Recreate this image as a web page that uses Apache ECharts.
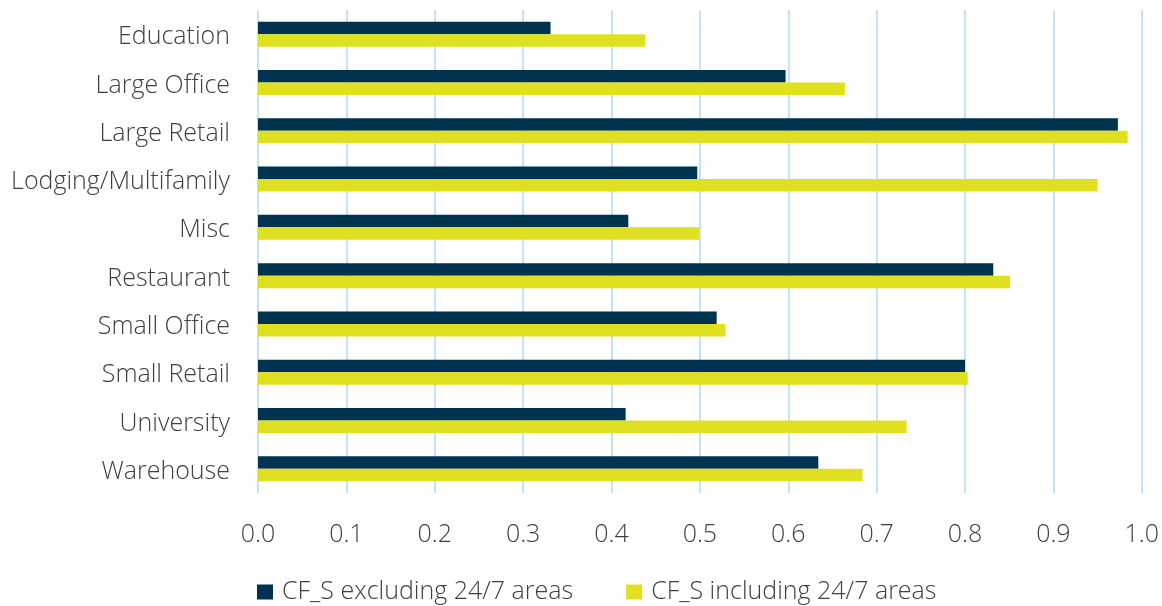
<!DOCTYPE html>
<html>
<head>
<meta charset="utf-8">
<script src="https://cdn.jsdelivr.net/npm/echarts@6/dist/echarts.min.js"></script>
<style>
  html, body { margin: 0; padding: 0; background: #ffffff; }
  #chart { width: 1162px; height: 606px; }
</style>
</head>
<body>
<div id="chart"></div>
<script>
// Building types, listed top to bottom
const categories = [
  'Education', 'Large Office', 'Large Retail', 'Lodging/Multifamily', 'Misc',
  'Restaurant', 'Small Office', 'Small Retail', 'University', 'Warehouse'
];

// Coincidence factor without 24/7 areas
const excluding247 = [0.331, 0.597, 0.973, 0.497, 0.419, 0.832, 0.519, 0.800, 0.416, 0.634];

// Coincidence factor with 24/7 areas
const including247 = [0.438, 0.664, 0.984, 0.950, 0.499, 0.851, 0.529, 0.803, 0.734, 0.684];

const seriesNames = ['CF_S excluding 24/7 areas', 'CF_S including 24/7 areas'];

const textColor = '#404040';
const fontFamily = '"Open Sans", "Noto Sans", sans-serif';

const chart = echarts.init(document.getElementById('chart'), null, { renderer: 'canvas' });

chart.setOption({
  animation: false,
  backgroundColor: '#ffffff',
  textStyle: { fontFamily: fontFamily },
  grid: { left: 258, right: 16, top: 10, bottom: 113, containLabel: false },
  legend: {
    data: seriesNames,
    left: 257,
    top: 579,
    padding: 0,
    itemWidth: 16,
    itemHeight: 15,
    itemGap: 53,
    icon: 'rect',
    textStyle: {
      fontSize: 25,
      lineHeight: 26,
      color: textColor,
      fontFamily: fontFamily,
      fontWeight: 300,
      padding: [0, 0, 0, 4]
    }
  },
  xAxis: {
    type: 'value',
    min: 0,
    max: 1,
    interval: 0.1,
    axisLine: { show: false },
    axisTick: { show: false },
    splitLine: { show: true, lineStyle: { color: '#c5e3f8', width: 2 } },
    axisLabel: {
      formatter: v => v.toFixed(1),
      fontSize: 25,
      color: textColor,
      fontWeight: 300,
      margin: 29
    }
  },
  yAxis: {
    type: 'category',
    data: categories,
    inverse: true,
    axisLine: { show: false },
    axisTick: { show: false },
    splitLine: { show: false },
    axisLabel: {
      margin: 28,
      formatter: v => '{c|' + v + '}',
      rich: {
        c: {
          fontSize: 25,
          color: textColor,
          fontWeight: 300,
          fontFamily: fontFamily,
          padding: [6, 0, 0, 0]
        }
      }
    }
  },
  series: [
    {
      name: seriesNames[0],
      type: 'bar',
      data: excluding247,
      barWidth: 12.5,
      barGap: '0%',
      itemStyle: { color: '#003350' }
    },
    {
      name: seriesNames[1],
      type: 'bar',
      data: including247,
      barWidth: 12.5,
      barGap: '0%',
      itemStyle: { color: '#dfe01f' }
    }
  ]
});
</script>
</body>
</html>
